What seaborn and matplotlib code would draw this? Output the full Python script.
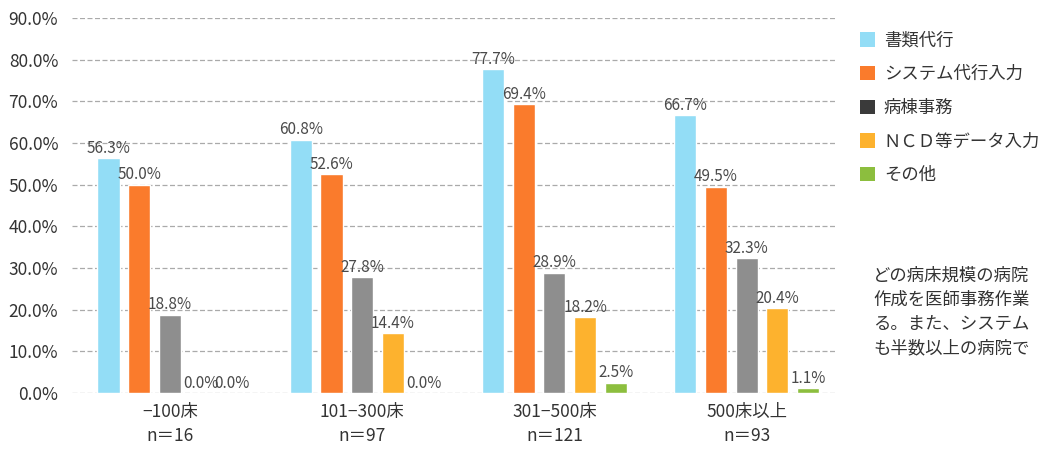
import matplotlib
matplotlib.use("Agg")
import matplotlib.pyplot as plt
import seaborn as sns
import pandas as pd
from matplotlib.patches import Patch

categories = ["−100床\nn＝16", "101−300床\nn＝97", "301−500床\nn＝121", "500床以上\nn＝93"]
series_names = ["書類代行", "システム代行入力", "病棟事務", "NCD等データ入力", "その他"]
shorui = [56.3, 60.8, 77.7, 66.7]
system = [50.0, 52.6, 69.4, 49.5]
byoto = [18.8, 27.8, 28.9, 32.3]
ncd = [0.0, 14.4, 18.2, 20.4]
sonota = [0.0, 0.0, 2.5, 1.1]
yticks = [0, 10, 20, 30, 40, 50, 60, 70, 80, 90]
legend_labels = ["書類代行", "システム代行入力", "病棟事務", "ＮＣＤ等データ入力", "その他"]
side_text = ["どの病床規模の病院", "作成を医師事務作業", "る。また、システム", "も半数以上の病院で"]

bar_colors = ["#93DDF6", "#FA7B2C", "#8E8E8E", "#FDB22E", "#8CBE3E"]
legend_colors = ["#93DDF6", "#FA7B2C", "#3A3A3A", "#FDB22E", "#8CBE3E"]

values = [shorui, system, byoto, ncd, sonota]
rows = []
for s, vals in zip(series_names, values):
    for c, v in zip(categories, vals):
        rows.append({"cat": c, "series": s, "val": v})
df = pd.DataFrame(rows)

sns.set_theme(style="white")
plt.rcParams["font.family"] = ["Noto Sans CJK JP", "DejaVu Sans"]

fig = plt.figure(figsize=(10.47, 4.53), dpi=100)
ax = fig.add_axes([0.0688, 0.1325, 0.7287, 0.8275])

sns.barplot(data=df, x="cat", y="val", hue="series", order=categories,
            hue_order=series_names, palette=bar_colors, width=0.8, gap=0.28,
            legend=False, ax=ax, saturation=1)

for cont in ax.containers:
    ax.bar_label(cont, fmt="%.1f%%", padding=1, fontsize=11, color="#4A4A4A")

ax.set_ylim(0, 90)
ax.set_xlim(-0.51, 3.46)
ax.set_yticks(yticks)
ax.set_yticklabels([f"{t:.1f}%" for t in yticks], fontsize=12.5, color="#333333")
ax.set_xticks(range(len(categories)))
ax.set_xticklabels(categories, fontsize=12.5, color="#333333", linespacing=1.45)
ax.tick_params(axis="x", length=0, pad=7)
ax.tick_params(axis="y", length=0, pad=10)
ax.set_xlabel("")
ax.set_ylabel("")
for sp in ax.spines.values():
    sp.set_visible(False)
ax.yaxis.grid(True, linestyle=(0, (4, 2)), color="#AAAAAA", linewidth=0.9)
ax.set_axisbelow(True)

handles = [Patch(facecolor=c, edgecolor="none") for c in legend_colors]
fig.legend(handles, legend_labels, loc="upper left", bbox_to_anchor=(0.806, 0.965),
           frameon=False, fontsize=12.5, handlelength=0.9, handleheight=0.9,
           labelspacing=0.9, handletextpad=0.5, labelcolor="#333333")

fig.text(0.834, 0.412, "\n".join(side_text), fontsize=12.5, color="#333333",
         va="top", ha="left", linespacing=1.45)

fig.savefig("out.png", dpi=100)
